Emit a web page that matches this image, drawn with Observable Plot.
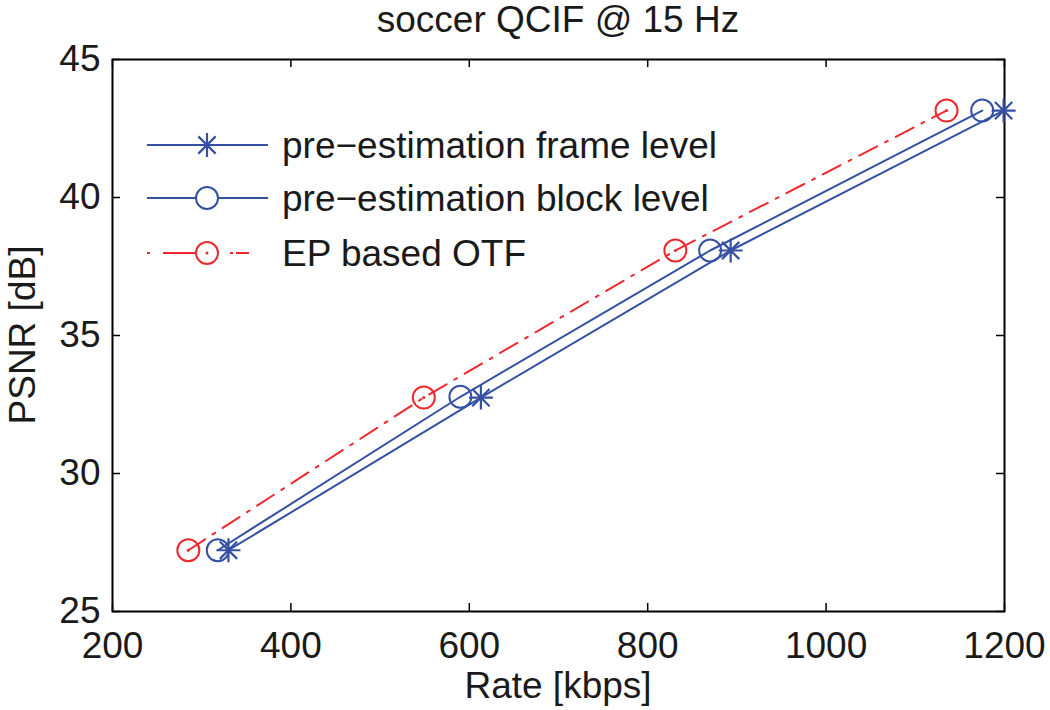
<!DOCTYPE html>
<html>
<head>
<meta charset="utf-8">
<script src="https://cdn.jsdelivr.net/npm/d3@7"></script>
<script src="https://cdn.jsdelivr.net/npm/@observablehq/plot@0.6"></script>
<style>
  html, body { margin: 0; padding: 0; background: #fff; overflow: hidden; }
  #wrap { position: relative; width: 1050px; height: 710px; }
  #wrap > svg { position: absolute; left: 0; top: 0; }
</style>
</head>
<body>
<div id="wrap"></div>
<script>
// ---- data ----
const title = "soccer QCIF @ 15 Hz";
const xLabel = "Rate [kbps]";
const yLabel = "PSNR [dB]";
const seriesNames = ["pre\u2212estimation frame level", "pre\u2212estimation block level", "EP based OTF"];
const rateFrame = [330, 613, 893, 1199];
const psnrFrame = [27.22, 32.75, 38.08, 43.15];
const rateBlock = [318, 590, 870, 1175];
const psnrBlock = [27.22, 32.78, 38.08, 43.15];
const rateOTF = [285, 549, 831, 1135];
const psnrOTF = [27.22, 32.75, 38.08, 43.15];
const xTicks = [200, 400, 600, 800, 1000, 1200];
const yTicks = [25, 30, 35, 40, 45];

const BLUE = "#3550a2";
const RED = "#f0282d";
const FONT = "'Liberation Sans', Arial, Helvetica, sans-serif";
const FS = 37;

const toRows = (xs, ys) => xs.map((x, i) => ({x, y: ys[i]}));
const frame = toRows(rateFrame, psnrFrame);
const block = toRows(rateBlock, psnrBlock);
const otf = toRows(rateOTF, psnrOTF);

// MATLAB-like asterisk marker
const star = {
  draw(ctx, size) {
    const r = Math.sqrt(size / Math.PI);
    const d = r * 0.72;
    ctx.moveTo(-r, 0); ctx.lineTo(r, 0);
    ctx.moveTo(0, -r); ctx.lineTo(0, r);
    ctx.moveTo(-d, -d); ctx.lineTo(d, d);
    ctx.moveTo(-d, d); ctx.lineTo(d, -d);
  }
};

const W = 1050, H = 710;
const mL = 112, mR = 46, mT = 59, mB = 99;
const innerW = W - mL - mR, innerH = H - mT - mB;

const chart = Plot.plot({
  width: W,
  height: H,
  marginLeft: mL,
  marginRight: mR,
  marginTop: mT,
  marginBottom: mB,
  style: {fontFamily: FONT, fontSize: FS + "px", color: "#1a1a1a", background: "white"},
  x: {domain: [200, 1200], ticks: xTicks, label: null},
  y: {domain: [25, 45], ticks: yTicks, label: null},
  marks: [
    Plot.axisX({ticks: xTicks, tickSize: 0, tickPadding: 20, label: null, fontSize: FS, tickFormat: d => String(d)}),
    Plot.axisY({ticks: yTicks, tickSize: 0, tickPadding: 12, label: null, fontSize: FS}),
    // inward ticks (bottom, top, left, right)
    Plot.tickX(xTicks, {x: d => d, insetTop: innerH - 8, stroke: "#000", strokeWidth: 1.5}),
    Plot.tickX(xTicks, {x: d => d, insetBottom: innerH - 8, stroke: "#000", strokeWidth: 1.5}),
    Plot.tickY(yTicks, {y: d => d, insetRight: innerW - 8, stroke: "#000", strokeWidth: 1.5}),
    Plot.tickY(yTicks, {y: d => d, insetLeft: innerW - 8, stroke: "#000", strokeWidth: 1.5}),
    Plot.frame({stroke: "#000", strokeWidth: 2}),
    // series
    Plot.line(otf, {x: "x", y: "y", stroke: RED, strokeWidth: 2, strokeDasharray: "20,9,3,9"}),
    Plot.line(block, {x: "x", y: "y", stroke: BLUE, strokeWidth: 2}),
    Plot.line(frame, {x: "x", y: "y", stroke: BLUE, strokeWidth: 2}),
    Plot.dot(otf, {x: "x", y: "y", r: 11, stroke: RED, strokeWidth: 2, fill: "none"}),
    Plot.dot(otf, {x: "x", y: "y", r: 1.5, fill: RED}),
    Plot.dot(block, {x: "x", y: "y", r: 11, stroke: BLUE, strokeWidth: 2, fill: "none"}),
    Plot.dot(frame, {x: "x", y: "y", r: 12, symbol: star, stroke: BLUE, strokeWidth: 2.2, fill: "none"})
  ]
});
document.getElementById("wrap").appendChild(chart);

// ---- overlay: title, axis labels, legend ----
const ov = d3.select("#wrap").append("svg")
  .attr("width", W).attr("height", H)
  .style("pointer-events", "none")
  .attr("font-family", FONT).attr("font-size", FS).attr("fill", "#1a1a1a");

const cx = mL + innerW / 2;
ov.append("text").attr("x", cx).attr("y", 32).attr("text-anchor", "middle").text(title);
ov.append("text").attr("x", cx).attr("y", 698).attr("text-anchor", "middle").text(xLabel);
ov.append("text").attr("transform", `translate(35,${mT + innerH / 2}) rotate(-90)`)
  .attr("text-anchor", "middle").text(yLabel);

const legendRows = [145, 198, 253];
const lx0 = 147, lx1 = 268, lxm = 207, ltx = 282;
const lg = ov.append("g");
// row 1: frame level
lg.append("line").attr("x1", lx0).attr("x2", lx1).attr("y1", legendRows[0]).attr("y2", legendRows[0])
  .attr("stroke", BLUE).attr("stroke-width", 2);
{
  const r = 12, d = r * 0.72, y = legendRows[0];
  lg.append("path").attr("d",
    `M${lxm - r},${y}H${lxm + r}M${lxm},${y - r}V${y + r}M${lxm - d},${y - d}L${lxm + d},${y + d}M${lxm - d},${y + d}L${lxm + d},${y - d}`)
    .attr("stroke", BLUE).attr("stroke-width", 2.2).attr("fill", "none");
}
// row 2: block level
lg.append("line").attr("x1", lx0).attr("x2", lx1).attr("y1", legendRows[1]).attr("y2", legendRows[1])
  .attr("stroke", BLUE).attr("stroke-width", 2);
lg.append("circle").attr("cx", lxm).attr("cy", legendRows[1]).attr("r", 11)
  .attr("stroke", BLUE).attr("stroke-width", 2).attr("fill", "white");
// row 3: EP based OTF (dash-dot)
{
  const y = legendRows[2];
  lg.append("line").attr("x1", lx0).attr("x2", lx1).attr("y1", y).attr("y2", y)
    .attr("stroke", RED).attr("stroke-width", 2).attr("stroke-dasharray", "3,13,27,0,0,0,27,13,3");
  lg.append("circle").attr("cx", lxm).attr("cy", y).attr("r", 11)
    .attr("stroke", RED).attr("stroke-width", 2).attr("fill", "white");
  lg.append("circle").attr("cx", lxm).attr("cy", y).attr("r", 1.5).attr("fill", RED);
}
seriesNames.forEach((name, i) => {
  lg.append("text").attr("x", ltx).attr("y", legendRows[i]).attr("dy", "0.35em").text(name);
});
</script>
</body>
</html>
